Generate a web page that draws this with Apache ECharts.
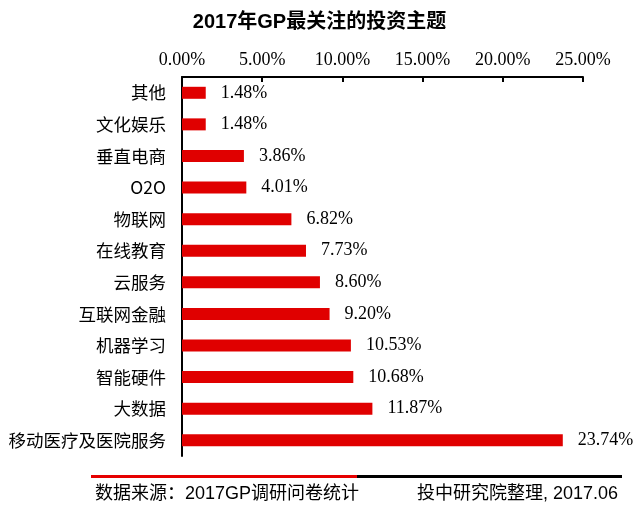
<!DOCTYPE html>
<html><head><meta charset="utf-8">
<script src="https://cdn.jsdelivr.net/npm/echarts@6/dist/echarts.min.js"></script>
<style>html,body{margin:0;padding:0;background:#fff}#c{width:639px;height:509px}</style>
</head><body><div id="c"></div>
<script>
var title = '2017年GP最关注的投资主题';
var categories = ['其他','文化娱乐','垂直电商','O2O','物联网','在线教育','云服务','互联网金融','机器学习','智能硬件','大数据','移动医疗及医院服务'];
var values = [1.48,1.48,3.86,4.01,6.82,7.73,8.60,9.20,10.53,10.68,11.87,23.74];
var sourceLeft = '数据来源：2017GP调研问卷统计';
var sourceRight = '投中研究院整理, 2017.06';

var chart = echarts.init(document.getElementById('c'), null, {renderer:'canvas'});
chart.setOption({
  animation:false,
  backgroundColor:'#fff',
  title:{text:title,left:'center',top:7,textStyle:{fontFamily:'Liberation Sans, Noto Sans CJK SC',fontWeight:'bold',fontSize:20,color:'#000'}},
  grid:{left:182,top:77,right:56,bottom:53,containLabel:false},
  xAxis:{type:'value',position:'top',min:0,max:25,interval:5,
    axisLine:{show:true,lineStyle:{color:'#000',width:2}},
    axisTick:{show:true,inside:true,length:5,lineStyle:{color:'#000',width:2}},
    splitLine:{show:false},
    axisLabel:{formatter:function(v){return v.toFixed(2)+'%';},fontFamily:'Liberation Serif',fontSize:18,color:'#000',margin:8}
  },
  yAxis:{type:'category',data:categories,inverse:true,
    axisLine:{show:true,lineStyle:{color:'#000',width:2}},
    axisTick:{show:false},
    axisLabel:{fontFamily:'Noto Sans CJK SC',fontSize:17.5,color:'#000',margin:16}
  },
  series:[{type:'bar',data:values,barWidth:12,itemStyle:{color:'#e00000'},
    label:{show:true,position:'right',distance:15,formatter:function(p){return p.value.toFixed(2)+'%';},fontFamily:'Liberation Serif',fontSize:18,color:'#000'}
  }],
  graphic:[
    {type:'rect',shape:{x:91,y:475,width:266,height:3},style:{fill:'#e60000'}},
    {type:'rect',shape:{x:357,y:475,width:265,height:3},style:{fill:'#000'}},
    {type:'text',x:95,y:494,style:{text:sourceLeft,fontFamily:'Liberation Sans, Noto Sans CJK SC',fontSize:18,fill:'#000',verticalAlign:'middle',align:'left'}},
    {type:'text',x:618,y:494,style:{text:sourceRight,fontFamily:'Liberation Sans, Noto Sans CJK SC',fontSize:18,fill:'#000',verticalAlign:'middle',align:'right'}}
  ]
});
</script></body></html>
